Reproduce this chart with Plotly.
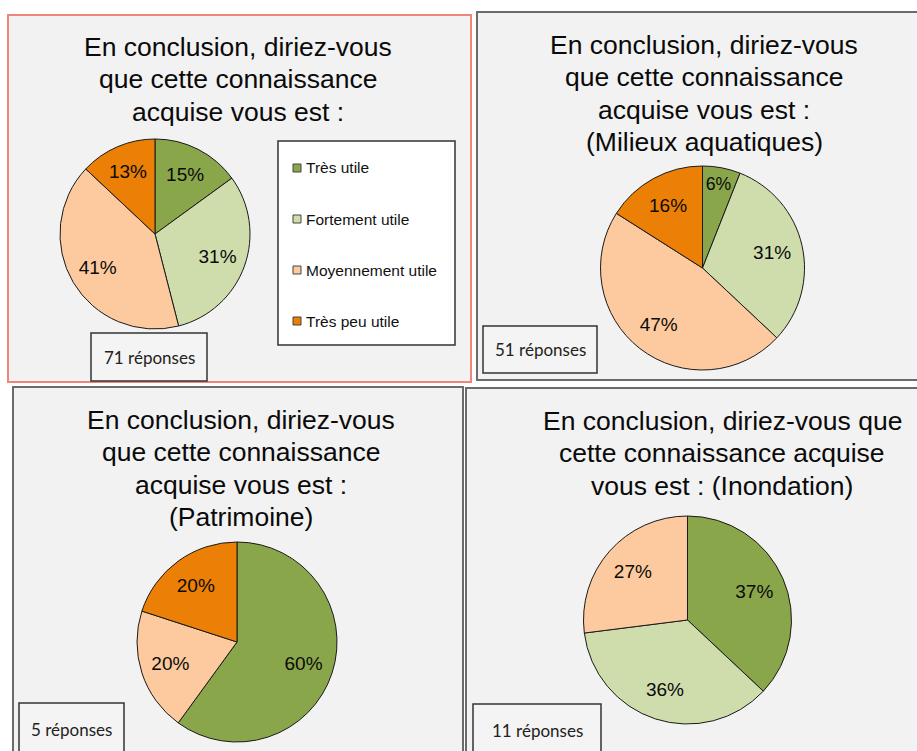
import plotly.graph_objects as go

W, H = 917, 751

# ---------------- data ----------------
categories = ["Très utile", "Fortement utile", "Moyennement utile", "Très peu utile"]
colors = ["#8aa64b", "#cfddac", "#fdca9f", "#ec7f05"]

values_general = [15, 31, 41, 13]
values_milieux = [6, 31, 47, 16]
values_patrimoine = [60, 0, 20, 20]
values_inondation = [37, 36, 27, 0]

titles = [
    ["En conclusion, diriez-vous", "que cette connaissance", "acquise vous est :"],
    ["En conclusion, diriez-vous", "que cette connaissance", "acquise vous est :", "(Milieux aquatiques)"],
    ["En conclusion, diriez-vous", "que cette connaissance", "acquise vous est :", "(Patrimoine)"],
    ["En conclusion, diriez-vous que", "cette connaissance acquise", "vous est : (Inondation)"],
]
responses = ["71 réponses", "51 réponses", "5 réponses", "11 réponses"]

# ---------------- layout (pixel positions) ----------------
panels = [
    dict(box=(8, 15, 471, 382), border="#f0857c", values=values_general,
         pie=(155, 234, 95), title=(238, 47), resp=(91, 333, 207, 381)),
    dict(box=(477, 12, 920, 380), border="#6b6b6b", values=values_milieux,
         pie=(702.5, 268, 102), title=(704, 45), resp=(483, 326, 597, 373)),
    dict(box=(13, 387, 463, 754), border="#6b6b6b", values=values_patrimoine,
         pie=(237, 642, 100), title=(241, 420), resp=(19, 703, 124, 760)),
    dict(box=(466, 388, 920, 754), border="#6b6b6b", values=values_inondation,
         pie=(687.5, 620, 104), title=(722, 421), resp=(473, 704, 601, 760)),
]
LINE_STEP = 32.3


def px(x):
    return x / W


def py(y):
    return 1 - y / H


fig = go.Figure()
shapes = []
annotations = []

for p in panels:
    x0, y0, x1, y1 = p["box"]
    shapes.append(dict(type="rect", xref="paper", yref="paper", layer="below",
                       x0=px(x0), x1=px(x1), y0=py(y1), y1=py(y0),
                       fillcolor="#f2f2f2", line=dict(color=p["border"], width=2)))
    labs, vals, cols = [], [], []
    for c, v, col in zip(categories, p["values"], colors):
        if v > 0:
            labs.append(c)
            vals.append(v)
            cols.append(col)
    cx, cy, r = p["pie"]
    dom = dict(x=[px(cx - r), px(cx + r)], y=[py(cy + r), py(cy - r)])
    # filled slices
    fig.add_trace(go.Pie(
        labels=labs, values=vals, sort=False, direction="clockwise", rotation=0,
        marker=dict(colors=cols, line=dict(color="#1a1a1a", width=1)),
        textinfo="none", domain=dom, showlegend=False,
        hoverinfo="label+percent",
    ))
    # percentage labels (transparent ring so labels sit toward the rim)
    fig.add_trace(go.Pie(
        labels=labs, values=vals, sort=False, direction="clockwise", rotation=0,
        hole=0.40,
        marker=dict(colors=["rgba(0,0,0,0)"] * len(vals), line=dict(width=0)),
        texttemplate="%{percent:.0%}", textposition="inside",
        insidetextorientation="horizontal",
        textfont=dict(family="Liberation Sans, Arial", size=19, color="#0a0a0a"),
        domain=dom, showlegend=False, hoverinfo="skip",
    ))

for p, lines, rtxt in zip(panels, titles, responses):
    tx, ty = p["title"]
    for i, line in enumerate(lines):
        annotations.append(dict(x=px(tx), y=py(ty + i * LINE_STEP), xref="paper", yref="paper",
                                text=line, showarrow=False, xanchor="center", yanchor="middle",
                                font=dict(family="Liberation Sans, Arial", size=26.5,
                                          color="#0a0a0a")))
    rx0, ry0, rx1, ry1 = p["resp"]
    shapes.append(dict(type="rect", xref="paper", yref="paper",
                       x0=px(rx0), x1=px(rx1), y0=py(ry1), y1=py(ry0),
                       fillcolor="#f4f4f4", line=dict(color="#333333", width=1.5)))
    annotations.append(dict(x=px((rx0 + rx1) / 2), y=py(min(ry0 + 26, (ry0 + ry1) / 2)),
                            xref="paper", yref="paper", text=rtxt, showarrow=False,
                            xanchor="center", yanchor="middle",
                            font=dict(family="Lato, Carlito", size=17, color="#222222")))

# legend (panel 1)
lx0, ly0, lx1, ly1 = 278, 141, 455, 345
shapes.append(dict(type="rect", xref="paper", yref="paper",
                   x0=px(lx0), x1=px(lx1), y0=py(ly1), y1=py(ly0),
                   fillcolor="#ffffff", line=dict(color="#333333", width=1.5)))
item_y = [168, 219, 270, 321]
for c, col, yy in zip(categories, colors, item_y):
    shapes.append(dict(type="rect", xref="paper", yref="paper",
                       x0=px(293), x1=px(301), y0=py(yy + 4), y1=py(yy - 4),
                       fillcolor=col, line=dict(color="#444444", width=1)))
    annotations.append(dict(x=px(304), y=py(yy), xref="paper", yref="paper",
                            text=c, showarrow=False, xanchor="left", yanchor="middle",
                            font=dict(family="Liberation Sans, Arial", size=15.5,
                                      color="#111111")))

fig.update_layout(
    width=W, height=H,
    margin=dict(l=0, r=0, t=0, b=0),
    paper_bgcolor="#ffffff",
    plot_bgcolor="#ffffff",
    shapes=shapes,
    annotations=annotations,
    showlegend=False,
)

fig.write_html("out.html", config={"displayModeBar": False},
               post_script="document.body.style.margin='0';document.body.style.overflow='hidden';")
